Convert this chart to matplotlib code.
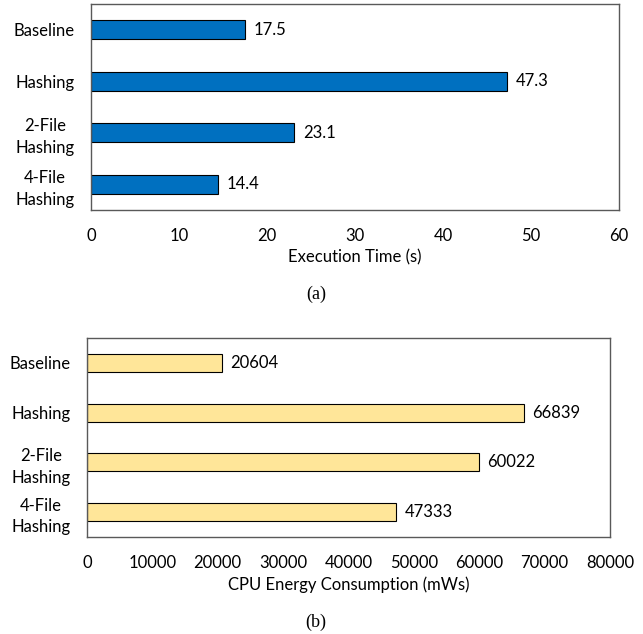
import matplotlib
matplotlib.use("Agg")
import matplotlib.pyplot as plt

categories = ["Baseline", "Hashing", "2-File\nHashing", "4-File\nHashing"]
exec_time = [17.5, 47.3, 23.1, 14.4]
energy = [20604, 66839, 60022, 47333]
time_ticks = [0, 10, 20, 30, 40, 50, 60]
energy_ticks = [0, 10000, 20000, 30000, 40000, 50000, 60000, 70000, 80000]

W, H = 643, 634
fig = plt.figure(figsize=(W / 100, H / 100), dpi=100)
plt.rcParams["font.family"] = ["Lato", "DejaVu Sans"]

FS = 12
FRAME = "#595959"


def px_axes(left, top, right, bottom):
    return fig.add_axes([left / W, 1 - bottom / H, (right - left) / W, (bottom - top) / H])


def draw(ax, values, ticks, color, xlabel, fmt, gap):
    y = list(range(len(categories)))
    ax.barh(y, values, height=0.36, color=color, edgecolor="black", linewidth=0.8)
    ax.set_ylim(len(categories) - 0.5, -0.5)
    ax.set_xlim(ticks[0], ticks[-1])
    ax.set_xticks(ticks)
    ax.set_xticklabels([str(t) for t in ticks], fontsize=FS)
    ax.set_yticks(y)
    ax.set_yticklabels(categories, fontsize=FS, multialignment="center", linespacing=1.45)
    ax.tick_params(axis="both", length=0)
    ax.tick_params(axis="x", pad=13)
    ax.tick_params(axis="y", pad=12)
    ax.set_xlabel(xlabel, fontsize=FS, labelpad=4)
    for s in ax.spines.values():
        s.set_color(FRAME)
        s.set_linewidth(1.0)
    for yi, v in zip(y, values):
        ax.text(v + gap, yi, fmt(v), va="center", ha="left", fontsize=FS)


ax1 = px_axes(91, 4, 619, 210)
draw(ax1, exec_time, time_ticks, "#0070C0", "Execution Time (s)", lambda v: f"{v:.1f}", 1.0)

ax2 = px_axes(87, 338, 610, 537)
draw(ax2, energy, energy_ticks, "#FFE699", "CPU Energy Consumption (mWs)", lambda v: f"{v:d}", 1250)

fig.text(316 / W, 1 - 294 / H, "(a)", ha="center", va="center",
         family="Liberation Serif", fontsize=13)
fig.text(316 / W, 1 - 622 / H, "(b)", ha="center", va="center",
         family="Liberation Serif", fontsize=13)

fig.savefig("out.png", dpi=100)
